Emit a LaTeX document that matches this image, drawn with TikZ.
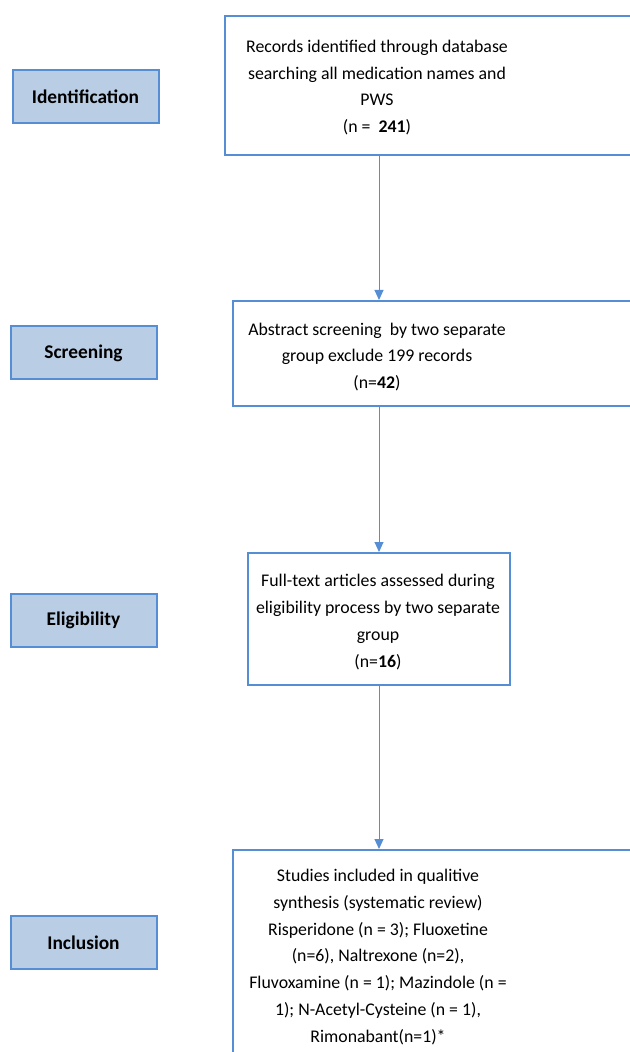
\documentclass[tikz,border=0pt]{standalone}
\usepackage{fontspec}
\setmainfont{Carlito}
\usepackage{xcolor}
\usetikzlibrary{arrows.meta}

\definecolor{BoxBlue}{RGB}{85,142,213}
\definecolor{StageFill}{RGB}{185,205,229}

\tikzset{
    stage/.style={rectangle, draw=BoxBlue, line width=1pt, fill=StageFill, minimum width=73pt, minimum height=26.5pt, font=\fontsize{9.7pt}{12pt}\selectfont\bfseries},
    frame/.style={rectangle, draw=BoxBlue, line width=1pt, anchor=north west, inner sep=0pt},
    txt/.style={align=center, inner sep=0pt, font=\fontsize{8.9pt}{13.35pt}\selectfont},
    flow/.style={BoxBlue, line width=0.5pt, -{Triangle[width=4.5pt, length=5pt]}}
}

\begin{document}
\begin{tikzpicture}[x=0.5pt, y=-0.5pt]
        \clip (0,0) rectangle (630,1052);

        % stages on the left
        \node (idf) at (85.5, 97)[stage] {Identification};
        \node (scr) at (83.5, 353)[stage] {Screening};
        \node (elg) at (83.5, 620.5)[stage] {Eligibility};
        \node (inc) at (83.5, 942.5)[stage] {Inclusion};

        % boxes on the right
        \node (rec) at (224, 15)[frame, minimum width=228pt, minimum height=69.5pt] {};
        \node (abs) at (232, 300)[frame, minimum width=224pt, minimum height=52.5pt] {};
        \node (ft) at (247, 552)[frame, minimum width=131pt, minimum height=66pt] {};
        \node (stu) at (232, 849)[frame, minimum width=224pt, minimum height=200pt] {};

        \node (recT) at (377, 87.5)[txt] {Records identified through database\\ searching all medication names and\\ PWS\\ (n = \ \textbf{241})};
        \node (absT) at (377, 357)[txt] {Abstract screening\ \ by two separate\\ group exclude 199 records\\ (n=\textbf{42})};
        \node (ftT) at (378, 622)[txt] {Full-text articles assessed during\\ eligibility process by two separate\\ group\\ (n=\textbf{16})};
        \node (stuT) at (378, 957)[txt] {Studies included in qualitive\\ synthesis (systematic review)\\ Risperidone (n = 3); Fluoxetine\\ (n=6), Naltrexone (n=2),\\ Fluvoxamine (n = 1); Mazindole (n =\\ 1); N-Acetyl-Cysteine (n = 1),\\ Rimonabant(n=1)*};

        \draw[flow] (rec.south -| ft.center) -- (abs.north -| ft.center);
        \draw[flow] (abs.south -| ft.center) -- (ft.north);
        \draw[flow] (ft.south) -- (stu.north -| ft.center);
    \end{tikzpicture}
\end{document}
